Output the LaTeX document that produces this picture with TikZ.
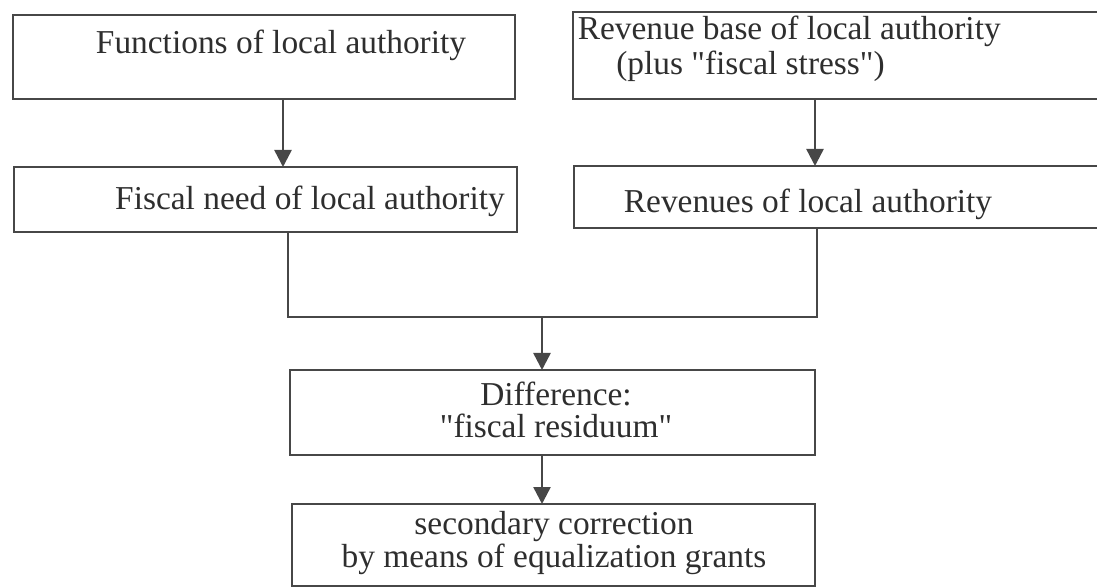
\documentclass[tikz,border=0pt]{standalone}
\usepackage{fontspec}
\setmainfont{Liberation Serif}
\usetikzlibrary{arrows.meta}

\begin{document}
\begin{tikzpicture}[x=0.5pt,y=-0.5pt,line width=1.25pt,color=black!72,
        box/.style={draw,rectangle,inner sep=0pt,outer sep=0pt},
        txt/.style={anchor=base,inner sep=0pt,text=black!82,font=\fontsize{16.7}{16}\selectfont},
        arr/.style={-{Triangle[width=8.5pt,length=8.5pt]}}]
    \useasboundingbox (0,0) rectangle (1097,587);
    \node[box,minimum width=251pt,minimum height=42pt](fun) at (264,57){};
    \node[box,minimum width=271pt,minimum height=43.5pt](base) at (844,55.5){};
    \node[box,minimum width=251.5pt,minimum height=32.5pt](need) at (265.5,199.5){};
    \node[box,minimum width=270.5pt,minimum height=31pt](rev) at (844.5,197){};
    \node[box,minimum width=262.5pt,minimum height=42.5pt](diff) at (552.5,412.5){};
    \node[box,minimum width=261.5pt,minimum height=41pt](corr) at (553.5,545){};
    \node[txt](funtxt) at (281,54){Functions of local authority};
    \node[txt,anchor=base west](basetxta) at (576.5,40){Revenue base of local authority};
    \node[txt,anchor=base west](basetxtb) at (615,75){(plus \textquotedbl fiscal stress\textquotedbl)};
    \node[txt](needtxt) at (310,210){Fiscal need of local authority};
    \node[txt](revtxt) at (808,213){Revenues of local authority};
    \node[txt,anchor=center,align=center](difftxt) at (556,410){Difference:\\\textquotedbl fiscal residuum\textquotedbl};
    \node[txt,anchor=center,align=center,font=\fontsize{16.7}{15}\selectfont](corrtxt) at (554,543){secondary correction\\by means of equalization grants};
    \coordinate (ca) at (283,0);
    \coordinate (cb) at (815,0);
    \coordinate (jl) at (288,317);
    \coordinate (jr) at (817,317);
    \coordinate (jm) at (542,317);
    \draw[arr] (fun.south -| ca) -- (need.north -| ca);
    \draw[arr] (base.south -| cb) -- (rev.north -| cb);
    \draw (need.south -| jl) -- (jl) -- (jr) -- (rev.south -| jr);
    \draw[arr] (jm) -- (diff.north -| jm);
    \draw[arr] (diff.south -| jm) -- (corr.north -| jm);
\end{tikzpicture}
\end{document}
